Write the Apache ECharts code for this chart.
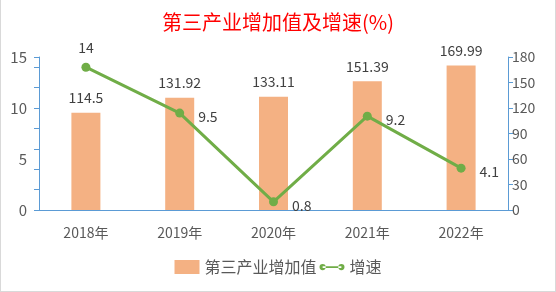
<!DOCTYPE html>
<html><head><meta charset="utf-8">
<script src="https://cdn.jsdelivr.net/npm/echarts@6/dist/echarts.min.js"></script>
<style>html,body{margin:0;padding:0;background:#fff}#c{width:556px;height:292px;box-sizing:border-box;border-left:1px solid #d9d9d9;border-right:1px solid #d9d9d9;border-bottom:1px solid #d9d9d9}</style>
</head><body><div id="c"></div>
<script>
const categories = ['2018年','2019年','2020年','2021年','2022年'];
const valueAdded = [114.5,131.92,133.11,151.39,169.99];
const growth = [14,9.5,0.8,9.2,4.1];
const leftTicks = [0,5,10,15];
const rightTicks = [0,30,60,90,120,150,180];

const font = '"Noto Sans CJK SC", sans-serif';
const axisColor = '#5B9BD5';
const labelColor = '#595959';
const chart = echarts.init(document.getElementById('c'), null, {renderer:'canvas'});
chart.setOption({
  animation:false,
  title:{text:'第三产业增加值及增速(%)',left:'center',top:7,textStyle:{color:'#FF0000',fontSize:20,fontWeight:'normal',fontFamily:font}},
  grid:{left:38,right:47,top:57,bottom:81},
  legend:{bottom:11,left:'center',itemGap:3,textStyle:{fontSize:16,color:labelColor,fontFamily:font},
    data:[{name:'第三产业增加值',icon:'rect',itemWidth:27,itemHeight:10},
          {name:'增速',icon:'path://M0,5 a5,5 0 1,0 10,0 a5,5 0 1,0 -10,0 Z M5,3.6 h30 v2.8 h-30 Z M30,5 a5,5 0 1,0 10,0 a5,5 0 1,0 -10,0 Z',itemWidth:32,itemHeight:9}]},
  xAxis:{type:'category',data:categories,axisLine:{lineStyle:{color:axisColor}},axisTick:{show:false},
    axisLabel:{color:labelColor,fontSize:14,fontFamily:font,margin:16}},
  yAxis:[
    {type:'value',position:'left',min:leftTicks[0],max:leftTicks[leftTicks.length-1],interval:5,
      axisLine:{show:true,lineStyle:{color:axisColor}},axisTick:{show:false},splitLine:{show:false},
      axisLabel:{color:labelColor,fontSize:15,fontFamily:font,margin:12}},
    {type:'value',position:'right',min:rightTicks[0],max:rightTicks[rightTicks.length-1],interval:30,
      axisLine:{show:true,lineStyle:{color:axisColor}},axisTick:{show:true,length:5,lineStyle:{color:axisColor}},splitLine:{show:false},
      axisLabel:{color:labelColor,fontSize:14,fontFamily:font,margin:4}},
    {type:'value',position:'left',min:0,max:15,interval:2,
      axisLine:{show:false},axisTick:{show:true,length:5,lineStyle:{color:axisColor}},splitLine:{show:false},
      axisLabel:{show:false}}
  ],
  series:[
    {name:'第三产业增加值',type:'bar',yAxisIndex:1,data:valueAdded,barWidth:29,itemStyle:{color:'#F4B183'},
      label:{show:true,position:'top',distance:8,color:'#404040',fontSize:14,fontFamily:font}},
    {name:'增速',type:'line',yAxisIndex:0,symbol:'circle',symbolSize:9,
      lineStyle:{color:'#70AD47',width:3},itemStyle:{color:'#70AD47'},
      label:{show:true,position:'right',distance:14,color:'#404040',fontSize:14,fontFamily:font,offset:[0,4]},
      data:growth.map((v,i)=> i===0 ? {value:v,label:{position:'top',distance:8,offset:[0,0]}} : v)}
  ]
});
</script></body></html>
